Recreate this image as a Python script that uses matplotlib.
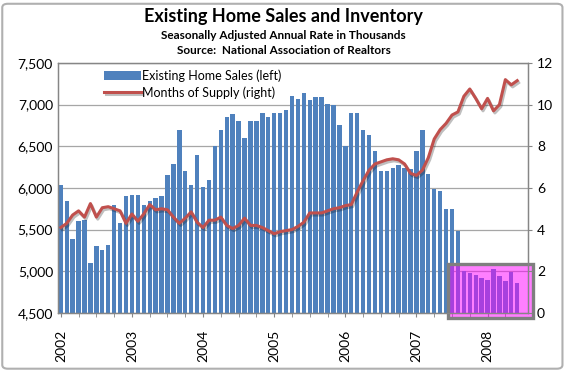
import numpy as np
import matplotlib.pyplot as plt
import matplotlib.patheffects as pe
from matplotlib.patches import Rectangle, FancyBboxPatch

plt.rcParams['font.family'] = ['Lato', 'DejaVu Sans']

# monthly data, Jan 2002 - Jun 2008
years = ['2002', '2003', '2004', '2005', '2006', '2007', '2008']

# existing home sales, SAAR thousands
sales = [6040, 5840, 5390, 5600, 5610, 5100, 5300, 5250, 5310, 5800, 5580, 5900,
         5910, 5910, 5800, 5840, 5880, 5900, 6160, 6290, 6700, 6200, 6040, 6400,
         6010, 6100, 6500, 6700, 6850, 6890, 6800, 6600, 6800, 6800, 6900, 6850,
         6900, 6900, 6940, 7100, 7070, 7140, 7050, 7090, 7090, 7010, 7000, 6760,
         6500, 6900, 6900, 6700, 6640, 6440, 6200, 6200, 6240, 6270, 6240, 6230,
         6440, 6690, 6170, 5990, 5960, 5750, 5750, 5480, 5000, 4980, 4950, 4920,
         4890, 5030, 4940, 4880, 4990, 4860]

# months of supply
supply = [4.1, 4.3, 4.7, 4.9, 4.6, 5.25, 4.6, 5.05, 5.1, 5.0, 4.9, 4.3,
          4.75, 4.4, 4.75, 5.2, 4.95, 5.0, 4.95, 4.6, 4.3, 4.55, 4.85, 4.35,
          4.1, 4.45, 4.45, 4.6, 4.2, 4.05, 4.2, 4.55, 4.2, 4.2, 4.1, 3.95,
          3.8, 3.9, 3.95, 4.0, 4.15, 4.35, 4.8, 4.8, 4.8, 4.9, 5.0, 5.05,
          5.15, 5.2, 5.8, 6.35, 6.85, 7.15, 7.25, 7.35, 7.4, 7.35, 7.15, 6.7,
          6.6, 6.85, 7.45, 8.35, 8.8, 9.1, 9.5, 9.65, 10.4, 10.75, 10.3, 9.8,
          10.3, 9.7, 10.0, 11.2, 10.95, 11.15]

x = np.arange(len(sales))

fig = plt.figure(figsize=(5.67, 3.77), dpi=100)
ax = fig.add_axes([0.102, 0.170, 0.829, 0.663])

ax.bar(x, sales, width=0.74, color='#4f81bd', zorder=2, label='Existing Home Sales (left)')
ax.set_xlim(-0.5, 78.8)
ax.set_ylim(4500, 7500)
ax.set_yticks(range(4500, 7501, 500))
ax.set_yticklabels([f'{v:,}' for v in range(4500, 7501, 500)], fontsize=10)
ax.yaxis.grid(True, color='#a6a6a6', lw=0.9, zorder=0)
ax.set_axisbelow(True)

ax.set_xticks(np.arange(0, len(sales), 12))
ax.set_xticklabels(years, rotation=90, fontsize=10)
ax.set_xticks(np.arange(0, len(sales), 3), minor=True)
ax.tick_params(axis='x', which='both', length=3, color='#868686')
ax.tick_params(axis='x', which='major', pad=9)
ax.tick_params(axis='y', length=0)

ax2 = ax.twinx()
ax2.plot(x, supply, color='#c0504d', lw=2.2, label='Months of Supply (right)',
         path_effects=[pe.SimpleLineShadow(offset=(1, -1.5), alpha=0.25), pe.Normal()])
ax2.set_ylim(0, 12)
ax2.set_yticks(range(0, 13, 2))
ax2.set_yticklabels([str(v) for v in range(0, 13, 2)], fontsize=10)
ax2.tick_params(axis='y', length=3, color='#868686')

for a in (ax, ax2):
    for s in a.spines.values():
        s.set_color('#868686')
        s.set_linewidth(0.9)

# highlight box over the latest months
ax.add_patch(Rectangle((65.3, 4440), 14.3, 648, facecolor=(1, 0, 1, 0.5),
                       edgecolor='#7f7f7f', lw=2.4, zorder=5, clip_on=False))

h1, l1 = ax.get_legend_handles_labels()
h2, l2 = ax2.get_legend_handles_labels()
ax2.legend(h1 + h2, l1 + l2, loc='upper left', bbox_to_anchor=(0.075, 1.02),
           frameon=False, fontsize=9, handlelength=2.9, labelspacing=0.35,
           handletextpad=0.15)

fig.text(0.5, 0.955, 'Existing Home Sales and Inventory', ha='center', va='center',
         fontsize=13, fontweight='bold')
fig.text(0.5, 0.905, 'Seasonally Adjusted Annual Rate in Thousands', ha='center',
         va='center', fontsize=8.5, fontweight='bold')
fig.text(0.5, 0.865, 'Source:  National Association of Realtors', ha='center',
         va='center', fontsize=8.5, fontweight='bold')

fig.patches.append(FancyBboxPatch((0.004, 0.022), 0.988, 0.968,
                                  boxstyle='round,pad=0,rounding_size=0.01',
                                  transform=fig.transFigure, fill=False,
                                  edgecolor='#b0b0b0', lw=1.5))

fig.savefig('out.png', dpi=100)
